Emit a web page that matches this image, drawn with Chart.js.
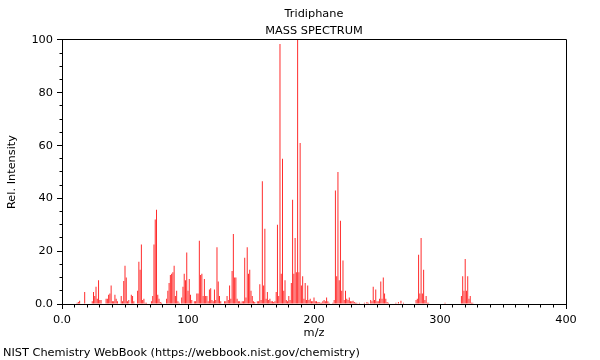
<!DOCTYPE html>
<html><head><meta charset="utf-8">
<script src="https://cdn.jsdelivr.net/npm/chart.js@4/dist/chart.umd.min.js"></script>
<style>html,body{margin:0;padding:0;background:#fff}#wrap{width:600px;height:360px}</style>
</head><body><div id="wrap"><canvas id="c" width="600" height="360"></canvas></div>
<script>
const compoundName = 'Tridiphane';
const chartSubtitle = 'MASS SPECTRUM';
const footerText = 'NIST Chemistry WebBook (https://webbook.nist.gov/chemistry)';
const xTitle = 'm/z';
const yTitle = 'Rel. Intensity';

const masses = [12,13,14,18,24,25,26,27,28,29,30,31,35,36,37,38,39,40,41,42,43,44,47,48,49,50,51,52,53,55,56,57,60,61,62,63,64,65,66,67,71,72,73,74,75,76,77,78,79,83,84,85,86,87,88,89,90,91,92,93,95,96,97,98,99,100,101,102,103,105,106,107,108,109,110,111,112,113,114,115,116,117,118,119,120,121,122,123,124,125,126,129,130,131,132,133,134,135,136,137,138,139,140,141,142,143,144,145,146,147,148,149,150,151,152,153,155,156,157,158,159,160,161,162,163,164,165,166,167,168,169,170,171,172,173,174,175,176,177,178,179,180,181,182,183,184,185,186,187,188,189,190,191,192,193,194,195,196,197,198,199,200,201,202,203,204,205,206,207,208,209,210,211,212,215,216,217,218,219,220,221,222,223,224,225,226,227,228,229,230,231,232,233,234,236,240,242,243,245,246,247,248,249,250,251,252,253,254,255,256,257,258,259,265,267,269,271,281,282,283,284,285,286,287,288,289,290,291,304,317,318,319,320,321,322,323,324,325,326];
const intensities = [0.5,0.8,1.2,4.5,1,4.5,3,6.5,2,9,1.5,1.5,2,2,3.5,4,7,1,1,3.5,2,1,3,1,8.7,14.5,10,1,1.5,3.5,3,1,5,16,13,22.5,1.5,2,0.5,0.5,1,3,22.5,32,35.7,3.5,2,0.8,0.5,2,5,8,11,11.5,12,14.5,3,5,1,0.5,2.5,6.5,11.5,9,19.5,5,9.5,3.5,1.5,1,1,4,4,24,11,11.5,3,9.5,3,3,1,5.5,6,1.5,1,5.5,1.5,21.5,8.5,3,1,1,1,3,1.5,7,2,12.5,26.5,10,10,2,1,1,0.5,1,1,17.5,2.5,21.5,11.5,13,5,3,1,0.8,1,1,7.5,1.5,46.5,7,28.5,2,4.5,1.5,2,1,1,0.8,1,4.5,30,3,98.5,11.5,55,5,9,1.5,1,3,1.5,8,39.5,11.5,25,12,100,12,61,7,10.5,2,8,1.5,7,1.5,2,1,1,2.5,1,1,0.7,0.8,0.5,0.5,1,1.5,1,2.5,1,0.5,0.5,1.5,43,10.5,50,9,31.5,5,16.5,1.5,5,2,1.5,2.5,1,1,1.2,0.8,0.5,0.5,0.5,0.5,0.8,0.5,1.5,1,6.5,1.5,5.5,1,1,2,8.5,2,10,4,2,0.8,0.5,0.5,0.8,1.2,0.5,1.5,2,18.7,4,25,4,13,1.5,3,0.5,0.5,0.5,3,10.5,5,17,5,10.5,2,3,0.5,0.5];

const xTickValues = [0, 100, 200, 300, 400];
const yTickValues = [0, 20, 40, 60, 80, 100];
const xMinorStep = 10;
const yMinorStep = 5;

const FONT = "'DejaVu Sans', sans-serif";
const FS = 11.33;
Chart.defaults.font.family = FONT;
Chart.defaults.font.size = FS;
Chart.defaults.color = '#000';

function align(p) { return Math.round(p - 0.5) + 0.5; }

const extrasPlugin = {
  id: 'extras',
  afterDraw(chart) {
    const ctx = chart.ctx;
    const a = chart.chartArea;
    const xs = chart.scales.x, ys = chart.scales.y;
    ctx.save();
    ctx.strokeStyle = '#000';
    ctx.lineWidth = 1;
    ctx.beginPath();
    const top = align(a.top), right = align(a.right), left = align(a.left), bottom = align(a.bottom);
    ctx.moveTo(left, top); ctx.lineTo(right, top); ctx.lineTo(right, bottom);
    for (let v = xs.min; v <= xs.max; v += xMinorStep) {
      if (xTickValues.includes(v)) continue;
      const px = align(xs.getPixelForValue(v));
      ctx.moveTo(px, bottom); ctx.lineTo(px, bottom + 3);
    }
    for (let v = ys.min; v <= ys.max; v += yMinorStep) {
      if (yTickValues.includes(v)) continue;
      const py = align(ys.getPixelForValue(v));
      ctx.moveTo(left - 3, py); ctx.lineTo(left, py);
    }
    ctx.stroke();
    ctx.fillStyle = '#000';
    ctx.font = FS + 'px ' + FONT;
    ctx.textBaseline = 'middle';
    ctx.textAlign = 'left';
    ctx.fillText(footerText, 3, 353.5);
    ctx.restore();
  }
};

new Chart(document.getElementById('c'), {
  type: 'bar',
  data: {
    datasets: [{
      data: masses.map((m, i) => ({ x: m, y: intensities[i] })),
      backgroundColor: 'rgb(255,45,45)',
      borderWidth: 0,
      barThickness: 1,
      inflateAmount: 0
    }]
  },
  options: {
    responsive: false,
    animation: false,
    devicePixelRatio: 1,
    layout: { padding: { left: 0, right: 34, top: 0, bottom: 20 } },
    plugins: {
      legend: { display: false },
      tooltip: { enabled: false },
      title: { display: true, text: compoundName, fullSize: false, color: '#000',
               font: { size: FS, weight: 'normal' }, padding: { top: 7.2, bottom: 3.4 } },
      subtitle: { display: true, text: chartSubtitle, fullSize: false, color: '#000',
                  font: { size: FS, weight: 'normal' }, padding: { top: 0, bottom: 2.2 } }
    },
    scales: {
      x: {
        type: 'linear', min: 0, max: 400, offset: false,
        afterBuildTicks: s => { s.ticks = xTickValues.map(v => ({ value: v })); },
        afterFit: s => { s.height = 36; },
        grid: { drawOnChartArea: false, offset: false, tickLength: 5, tickColor: '#000' },
        border: { color: '#000' },
        ticks: { padding: 4.2, maxRotation: 0, autoSkip: false, color: '#000',
                 callback: v => v === 0 ? '0.0' : String(v) },
        title: { display: true, text: xTitle, color: '#000', font: { size: FS }, padding: { top: 0, bottom: 0 } }
      },
      y: {
        min: 0, max: 100,
        afterBuildTicks: s => { s.ticks = yTickValues.map(v => ({ value: v })); },
        afterFit: s => { s.width = 62; },
        grid: { drawOnChartArea: false, tickLength: 5, tickColor: '#000' },
        border: { color: '#000' },
        ticks: { padding: 4, color: '#000', callback: v => v === 0 ? '0.0' : String(v) },
        title: { display: true, text: yTitle, color: '#000', font: { size: FS }, padding: { top: 5.2, bottom: 0 } }
      }
    }
  },
  plugins: [extrasPlugin]
});
</script>
</body></html>
